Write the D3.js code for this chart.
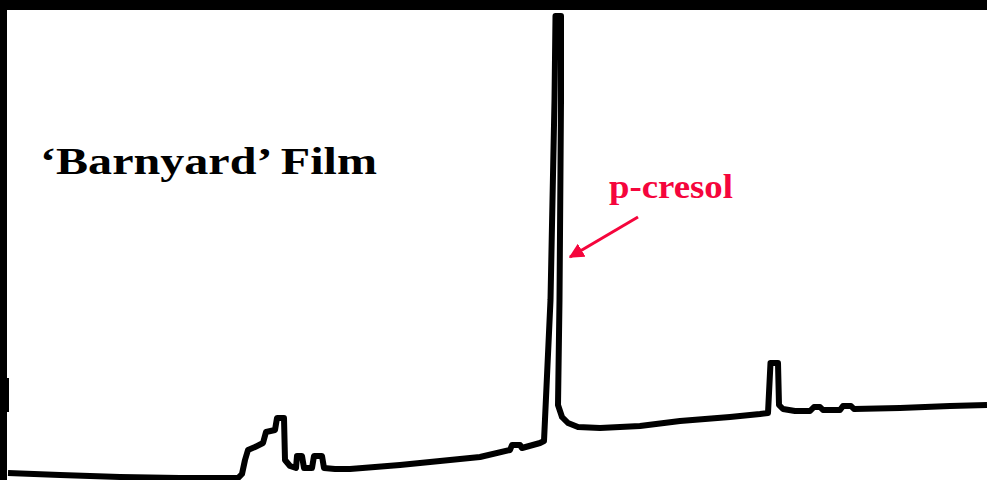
<!DOCTYPE html>
<html>
<head>
<meta charset="utf-8">
<script src="https://cdn.jsdelivr.net/npm/d3@7"></script>
<style>
  body { margin: 0; background: #fff; }
  svg { display: block; }
</style>
</head>
<body>
<svg id="canvas" width="987" height="480"></svg>
<script>
// chromatogram trace (time in min, detector response)
let times = [0, 2.08, 4.48, 6.88, 9.2, 9.36, 9.48, 9.6, 9.88, 10.2, 10.32, 10.68, 10.76, 11.04, 11.08,
  11.28, 11.52, 11.56, 11.76, 11.84, 12.16, 12.24, 12.56, 12.64, 13.08, 13.68, 15.68, 17.68, 18.88,
  20.08, 20.16, 20.48, 20.56, 21.28, 21.44, 21.7, 21.86, 21.9, 22.12, 22.12, 22.06, 22.0, 22.16,
  22.4, 22.8, 23.68, 25.28, 26.88, 28.88, 30.08, 30.4, 30.5, 30.8, 30.84, 31.0, 31.48, 32.08, 32.24,
  32.48, 32.6, 33.28, 33.4, 33.72, 33.84, 35.68, 37.68, 39.16]
let response = [14, 10, 6, 4, 4, 12, 40, 60, 66, 74, 96, 100, 124, 124, 40,
  28, 24, 48, 48, 24, 24, 48, 48, 24, 22, 22, 30, 40, 46,
  60, 70, 70, 64, 74, 78, 360, 760, 928, 928, 760, 360, 150, 126,
  114, 106, 104, 108, 118, 126, 132, 134, 234, 234, 150, 142, 138, 138, 146,
  146, 140, 140, 148, 148, 142, 144, 148, 150]

let titleText = '\u2018Barnyard\u2019 Film'
let peakLabel = 'p-cresol'
let peakTime = 22.0

let canvas = d3.select('#canvas')

let xScale = d3.scaleLinear().domain([0, 39.16]).range([8, 987])
let yScale = d3.scaleLinear().domain([0, 930]).range([480, 15])

// black frame along top and left
canvas.append('rect').attr('x', 0).attr('y', 0).attr('width', 987).attr('height', 10).attr('fill', '#000')
canvas.append('rect').attr('x', 0).attr('y', 0).attr('width', 7).attr('height', 480).attr('fill', '#000')
canvas.append('rect').attr('x', 7).attr('y', 378).attr('width', 2).attr('height', 34).attr('fill', '#000')

let points = times.map((t, i) => [t, response[i]])

let line = d3.line()
  .x(d => xScale(d[0]))
  .y(d => yScale(d[1]))

canvas.append('path')
  .datum(points)
  .attr('d', line)
  .attr('fill', 'none')
  .attr('stroke', '#000')
  .attr('stroke-width', 6)
  .attr('stroke-linejoin', 'round')
  .attr('stroke-linecap', 'butt')

canvas.append('text')
  .text(titleText)
  .attr('x', 40)
  .attr('y', 174)
  .attr('font-family', '"Liberation Serif", "Times New Roman", serif')
  .attr('font-weight', 'bold')
  .attr('font-size', 37)
  .attr('textLength', 337)
  .attr('lengthAdjust', 'spacingAndGlyphs')
  .attr('fill', '#000')

let red = '#f5053c'

canvas.append('text')
  .text(peakLabel)
  .attr('x', 609)
  .attr('y', 198)
  .attr('font-family', '"Liberation Serif", "Times New Roman", serif')
  .attr('font-weight', 'bold')
  .attr('font-size', 34)
  .attr('textLength', 124)
  .attr('lengthAdjust', 'spacingAndGlyphs')
  .attr('fill', red)

canvas.append('defs').append('marker')
  .attr('id', 'head')
  .attr('viewBox', '0 0 10 10')
  .attr('refX', 9)
  .attr('refY', 5)
  .attr('markerWidth', 5)
  .attr('markerHeight', 5)
  .attr('orient', 'auto')
  .append('path')
  .attr('d', 'M0,0 L10,5 L0,10 Z')
  .attr('fill', red)

// arrow pointing at the p-cresol peak
canvas.append('line')
  .attr('x1', xScale(peakTime) + 80)
  .attr('y1', yScale(526))
  .attr('x2', xScale(peakTime) + 12)
  .attr('y2', yScale(446))
  .attr('stroke', red)
  .attr('stroke-width', 3)
  .attr('marker-end', 'url(#head)')
</script>
</body>
</html>
